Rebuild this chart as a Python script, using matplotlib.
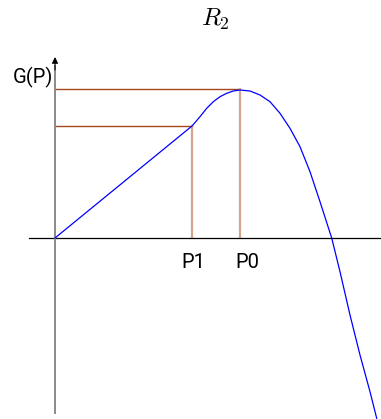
#!/usr/bin/env python3
"""Sketch of G(P) with the two marked points P1 and P0."""
import matplotlib

matplotlib.use("Agg")
import matplotlib.pyplot as plt

plt.rcParams["mathtext.fontset"] = "cm"

# values (1 unit = 100 px)
P_VALUES = [0.0, 1.37, 1.45, 1.517, 1.583, 1.65, 1.717, 1.783, 1.85, 1.95, 2.05,
            2.15, 2.25, 2.35, 2.45, 2.55, 2.65, 2.767, 2.85, 2.95, 3.05, 3.15, 3.217]
G_VALUES = [0.0, 1.12, 1.213, 1.297, 1.363, 1.413, 1.447, 1.47, 1.48, 1.47, 1.43,
            1.363, 1.247, 1.097, 0.913, 0.663, 0.363, 0.0, -0.337, -0.77, -1.17,
            -1.537, -1.803]
MARK_NAMES = ["P1", "P0"]
MARK_P = [1.37, 1.85]
MARK_G = [1.12, 1.485]
LABEL_SHIFT = [1, 5]  # points, labels sit a bit right of their line

FONT = ["Roboto", "DejaVu Sans"]

fig = plt.figure(figsize=(3.81, 4.19), dpi=100)
ax = fig.add_axes([0, 0, 1, 1])
ax.set_xlim(-0.55, 3.26)
ax.set_ylim(-1.81, 2.38)
ax.axis("off")

# axes
ax.plot([-0.257, 3.26], [0, 0], color="black", lw=0.9, zorder=2)
ax.plot([0, 0], [-1.747, 1.72], color="#8a8a8a", lw=1.4, zorder=2)
ax.annotate("", xy=(0, 1.81), xytext=(0, 1.68),
            arrowprops=dict(arrowstyle="-|>", color="black", lw=0.8,
                            mutation_scale=9, shrinkA=0, shrinkB=0))
ax.text(-0.02, 1.61, "G(P)", ha="right", va="center", fontsize=14.5, family=FONT)

# guide lines to the marked points
for name, p, g, shift in zip(MARK_NAMES, MARK_P, MARK_G, LABEL_SHIFT):
    ax.plot([0, p], [g, g], color="#a4461c", lw=1.0, zorder=1)
    ax.plot([p, p], [0, g], color="#d6a48e", lw=1.6, zorder=1)
    ax.annotate(name, xy=(p, 0), xytext=(shift, -17.5), textcoords="offset points",
                ha="center", va="center", fontsize=14.5, family=FONT)

ax.plot(P_VALUES, G_VALUES, color="blue", lw=0.9, zorder=3)

fig.text(215 / 381, 1 - 19 / 419, r"$R_2$", ha="center", va="center", fontsize=18)

fig.savefig("out.png", dpi=100)
